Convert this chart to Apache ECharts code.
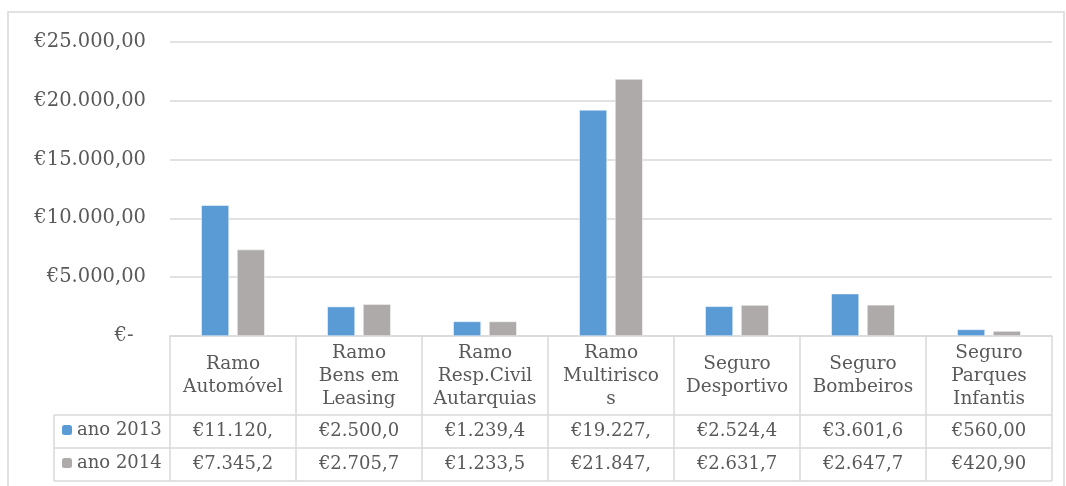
<!DOCTYPE html>
<html>
<head>
<meta charset="utf-8">
<script src="https://cdn.jsdelivr.net/npm/echarts@6/dist/echarts.min.js"></script>
<style>
  html, body { margin: 0; padding: 0; background: #fff; }
  #chart { width: 1066px; height: 486px; }
</style>
</head>
<body>
<div id="chart"></div>
<script>
const categories = [
  'Ramo\nAutomóvel',
  'Ramo\nBens em\nLeasing',
  'Ramo\nResp.Civil\nAutarquias',
  'Ramo\nMultirisco\ns',
  'Seguro\nDesportivo',
  'Seguro\nBombeiros',
  'Seguro\nParques\nInfantis',
];
const seriesNames = ['ano 2013', 'ano 2014'];
const values2013 = [11120, 2500, 1239.4, 19227, 2524.4, 3601.6, 560];
const values2014 = [7345.2, 2705.7, 1233.5, 21847, 2631.7, 2647.7, 420.9];

const FONT = "'DejaVu Serif', Georgia, serif";
const TEXT = '#595959';
const LINE = '#d9d9d9';

// Portuguese currency style: €25.000,00
function euro(v) {
  const [int, dec] = v.toFixed(2).split('.');
  return '€' + int.replace(/\B(?=(\d{3})+(?!\d))/g, '.') + ',' + dec;
}

const GRID = { left: 170, right: 14, top: 42, bottom: 150 };
const axisY = 486 - GRID.bottom;       // 336
const rowLines = [415, 448, 481];
const tableLeft = 54;

const chart = echarts.init(document.getElementById('chart'));

chart.setOption({
  animation: false,
  backgroundColor: '#fff',
  textStyle: { fontFamily: FONT },
  grid: GRID,
  legend: {
    orient: 'vertical',
    left: 62,
    top: 421,
    padding: 0,
    itemWidth: 10,
    itemHeight: 10,
    itemGap: 15,
    itemTextGap: 5,
    itemStyle: { borderWidth: 0 },
    textStyle: { color: TEXT, fontSize: 18, fontFamily: FONT, lineHeight: 18 },
    data: seriesNames,
  },
  xAxis: {
    type: 'category',
    data: categories,
    axisLine: { lineStyle: { color: LINE, width: 1.5 } },
    axisTick: { show: true, length: rowLines[2] - axisY, lineStyle: { color: LINE, width: 1.5 } },
    axisLabel: {
      color: TEXT,
      fontSize: 18.5,
      fontFamily: FONT,
      lineHeight: 23,
      margin: 40,
      verticalAlign: 'middle',
      interval: 0,
    },
  },
  yAxis: {
    type: 'value',
    min: 0,
    max: 25000,
    interval: 5000,
    axisLine: { show: false },
    axisTick: { show: false },
    splitLine: { lineStyle: { color: LINE, width: 1.5 } },
    axisLabel: {
      color: TEXT,
      fontSize: 19.5,
      fontFamily: FONT,
      margin: 24,
      formatter: (v) => (v === 0 ? '€-  ' : euro(v)),
    },
  },
  series: [
    {
      name: seriesNames[0],
      type: 'bar',
      data: values2013,
      barWidth: '22%',
      barGap: '29%',
      itemStyle: { color: '#5B9BD5', borderColor: '#fff', borderWidth: 0.5 },
    },
    {
      name: seriesNames[1],
      type: 'bar',
      data: values2014,
      barWidth: '22%',
      itemStyle: { color: '#AEAAAA', borderColor: '#fff', borderWidth: 0.5 },
    },
  ],
});

// data table under the axis
const right = 1066 - GRID.right;
const graphic = [
  {
    type: 'rect',
    shape: { x: 8, y: 12, width: 1056, height: 480 },
    style: { fill: null, stroke: LINE, lineWidth: 1.5 },
    silent: true,
  },
  {
    type: 'line',
    shape: { x1: tableLeft, y1: rowLines[0], x2: tableLeft, y2: rowLines[2] },
    style: { stroke: LINE, lineWidth: 1.5 },
  },
];
rowLines.forEach((y) => {
  graphic.push({
    type: 'line',
    shape: { x1: tableLeft, y1: y, x2: right, y2: y },
    style: { stroke: LINE, lineWidth: 1.5 },
  });
});
[values2013, values2014].forEach((vals, r) => {
  const cy = (rowLines[r] + rowLines[r + 1]) / 2;
  vals.forEach((v, i) => {
    const cx = chart.convertToPixel({ xAxisIndex: 0 }, i);
    graphic.push({
      type: 'text',
      x: cx,
      y: cy,
      style: {
        text: euro(v).slice(0, 8),
        fill: TEXT,
        font: '18px ' + FONT,
        align: 'center',
        verticalAlign: 'middle',
      },
    });
  });
});
chart.setOption({ graphic });
</script>
</body>
</html>
